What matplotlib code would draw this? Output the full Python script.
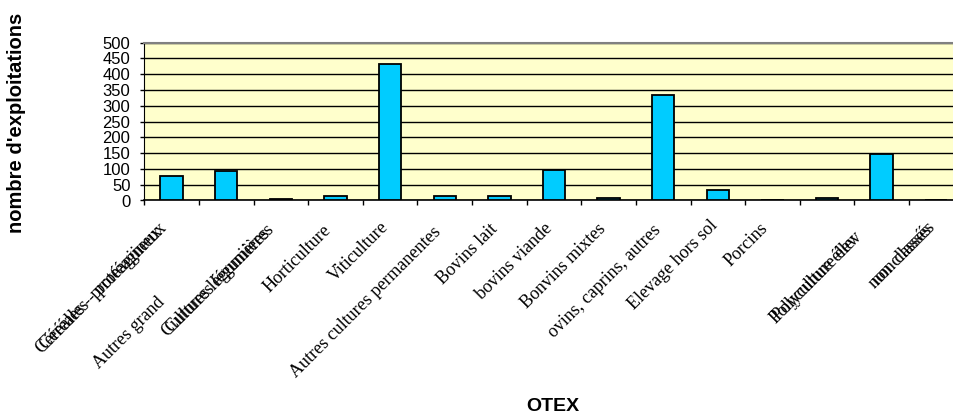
import numpy as np
import matplotlib
matplotlib.use('Agg')
import matplotlib.pyplot as plt

# ---------------------------------------------------------------------------
# Données
# ---------------------------------------------------------------------------
categories = ['Céréales - protéagineux', 'Autres grandes cultures', 'Cultures légumières',
              'Horticulture', 'Viticulture', 'Autres cultures permanentes', 'Bovins lait',
              'bovins viande', 'Bonvins mixtes', 'ovins, caprins, autres', 'Elevage hors sol',
              'Porcins', 'Polyculture', 'Polyculture élevage', 'non classés']
exploitations = [78, 92, 4, 14, 431, 14, 14, 97, 9, 333, 34, 0, 9, 147, 0]

# texte affiché sous chaque barre (tel qu'Excel l'a rendu, tronqué/superposé)
tick_labels = ['Céréales - protéagineux', 'Autres grand', 'Cultures légumières',
               'Horticulture', 'Viticulture', 'Autres cultures permanentes', 'Bovins lait',
               'bovins viande', 'Bonvins mixtes', 'ovins, caprins, autres', 'Elevage hors sol',
               'Porcins', '', 'Polyculture élev', 'non classés']
y_ticks = list(range(0, 501, 50))

# ---------------------------------------------------------------------------
# Figure
# ---------------------------------------------------------------------------
W, H = 954, 415
fig = plt.figure(figsize=(W / 100, H / 100), dpi=100)
ax = fig.add_axes([144.3 / W, (H - 200.5) / H, 819.3 / W, 157.8 / H])
ax.set_facecolor('#FFFFCC')

x = np.arange(len(categories))
ax.bar(x, exploitations, width=0.41, color='#00CCFF', edgecolor='black',
       linewidth=1.3, zorder=3)

ax.set_xlim(-0.5, len(categories) - 0.5)
ax.set_ylim(0, 500)
ax.set_yticks(y_ticks)
ax.set_yticklabels([str(v) for v in y_ticks], fontfamily='Liberation Sans', fontsize=12)
ax.yaxis.grid(True, color='black', linewidth=1.0)
ax.set_axisbelow(True)

ax.set_xticks(np.arange(-0.5, len(categories), 1))
ax.set_xticklabels([])
ax.tick_params(axis='x', length=3.6, width=1, color='black', direction='out')
ax.tick_params(axis='y', length=3, width=1, color='black', direction='out', pad=7)

ax.spines['top'].set_color('#808080')
ax.spines['top'].set_linewidth(1.5)
ax.spines['right'].set_visible(False)
ax.spines['left'].set_color('black')
ax.spines['bottom'].set_color('black')
ax.spines['bottom'].set_linewidth(1.2)


def label(i, txt, dx, dy):
    ax.annotate(txt, xy=(i, 0), xycoords=('data', 'axes fraction'),
                xytext=(dx, dy), textcoords='offset pixels',
                rotation=45, rotation_mode='anchor', ha='right', va='top',
                fontfamily='Liberation Serif', fontsize=13, annotation_clip=False)


# Étiquettes de catégories (décalages en pixels depuis le centre de la catégorie)
offsets = [(-14, -19), (-70, -93), (-15, -21), (-13, -21), (-10, -18), (-12, -23), (-10, -20),
           (-10, -19), (-11, -20), (-11, -21), (-9, -16), (-13, -19), (0, 0), (-28, -28), (-10, -19)]
for i, (lab, (dx, dy)) in enumerate(zip(tick_labels, offsets)):
    if lab:
        label(i, lab, dx, dy)

# doubles superposés (rendu brouillé de l'original), légèrement décalés le long du texte
for i, shift in [(0, 4), (2, 4), (13, 3), (14, 3)]:
    dx, dy = offsets[i]
    label(i, tick_labels[i], dx - shift, dy - shift)

fig.text(17 / W, 1 - 123 / H, "nombre d'exploitations", rotation=90, ha='center', va='center',
         fontfamily='Liberation Sans', fontweight='bold', fontsize=14.5)
fig.text(553 / W, 1 - 406 / H, 'OTEX', ha='center', va='center',
         fontfamily='Liberation Sans', fontweight='bold', fontsize=14)

plt.savefig('out.png', dpi=100)
